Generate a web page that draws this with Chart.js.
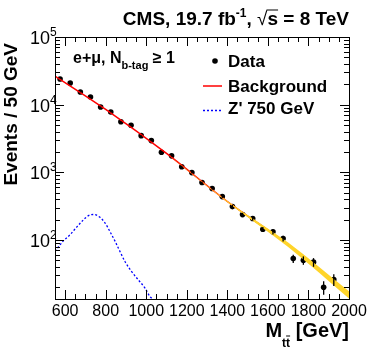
<!DOCTYPE html>
<html>
<head>
<meta charset="utf-8">
<script src="https://cdn.jsdelivr.net/npm/chart.js@4/dist/chart.umd.min.js"></script>
<style>
  html, body { margin: 0; padding: 0; background: #fff; }
  #chart { display: block; }
</style>
</head>
<body>
<canvas id="chart" width="368" height="353"></canvas>
<script>
// data (events per 50 GeV bin)
const dataMass = [575,625,675,725,775,825,875,925,975,1025,1075,1125,1175,1225,1275,1325,1375,1425,1475,1525,1575,1625,1675,1725,1775,1825,1875,1925];
const dataCounts = [24000,20900,15400,13000,9250,7800,5600,4970,3480,2940,1980,1750,1210,990,705,575,437,311,237,207,144,132,105,53,50,47,20,26];
const dataErrors = [155,145,124,114,96,88,75,70,59,54,44,42,35,31,27,24,21,18,15,14,12,11.5,10,7.3,7.1,6.9,4.5,5.1];

// background fit
const bkgMass = [550,800,1100,1400,1700,2000];
const bkgValues = [26500,8500,1900,370,85,15.5];

// its uncertainty bands, only visible at high mass
const bandMass = [1100,1400,1700,2000];
const bandOuterUp = [1900,378,91.5,17.4];
const bandOuterDown = [1900,362,78.5,13.6];
const bandInnerUp = [1900,374,88,16.5];
const bandInnerDown = [1900,366,82,14.5];

// Z' 750 GeV signal template
const zpMass = [550,590,625,657,690,715,740,770,797,821,846,871,895,928,961,994,1018,1035,1060];
const zpValues = [68,96,120,155,198,229,238,218,178,133,96,67,48,34,25.7,19.4,14.6,13,10.5];

const xTickLabels = [600,800,1000,1200,1400,1600,1800,2000];
const yTickExponents = [2,3,4,5];

const FONT = '"Liberation Sans", Arial, Helvetica, sans-serif';

function pts(xs, ys) {
  return xs.map((x, i) => ({ x: x, y: ys[i] }));
}

function drawParts(ctx, parts, x, y, align) {
  let total = 0;
  parts.forEach(p => { ctx.font = p.font; p.w = ctx.measureText(p.t).width; total += p.w; });
  let cx = align === "right" ? x - total : x;
  parts.forEach(p => {
    ctx.font = p.font;
    ctx.textAlign = "left";
    ctx.fillText(p.t, cx, y + (p.dy || 0));
    if (p.bar) {
      ctx.beginPath();
      ctx.lineWidth = p.barWidth || 1;
      ctx.moveTo(cx + (p.barFrom || 0), y + p.bar);
      ctx.lineTo(cx + p.w + (p.barTo || 0), y + p.bar);
      ctx.stroke();
    }
    cx += p.w;
  });
}

const rootStyle = {
  id: "rootStyle",
  afterDatasetsDraw(chart) {
    // vertical error bars on the data points
    const ctx = chart.ctx;
    const xs = chart.scales.x, ys = chart.scales.y;
    const area = chart.chartArea;
    ctx.save();
    ctx.beginPath();
    ctx.rect(area.left, area.top, area.right - area.left, area.bottom - area.top);
    ctx.clip();
    ctx.strokeStyle = "#000";
    ctx.lineWidth = 1.3;
    dataMass.forEach((m, i) => {
      const px = xs.getPixelForValue(m);
      ctx.beginPath();
      ctx.moveTo(px, ys.getPixelForValue(dataCounts[i] + dataErrors[i]));
      ctx.lineTo(px, ys.getPixelForValue(dataCounts[i] - dataErrors[i]));
      ctx.stroke();
    });
    ctx.restore();
  },
  afterDraw(chart) {
    const ctx = chart.ctx;
    const xs = chart.scales.x, ys = chart.scales.y;
    const { left, right, top, bottom } = chart.chartArea;
    ctx.save();
    ctx.strokeStyle = "#000";
    ctx.fillStyle = "#000";
    ctx.lineWidth = 1;

    // frame
    ctx.strokeRect(Math.round(left) + 0.5, Math.round(top) + 0.5, Math.round(right - left), Math.round(bottom - top));

    // x ticks, bottom and top, pointing inwards
    for (let m = 600; m < 2000; m += 50) {
      const px = Math.round(xs.getPixelForValue(m)) + 0.5;
      const len = m % 200 === 0 ? 9 : 5;
      ctx.beginPath();
      ctx.moveTo(px, bottom); ctx.lineTo(px, bottom - len);
      ctx.moveTo(px, top); ctx.lineTo(px, top + len);
      ctx.stroke();
    }
    // y ticks, left and right
    for (let d = 1; d <= 4; d++) {
      for (let k = 1; k <= 9; k++) {
        const v = k * Math.pow(10, d);
        if (v <= ys.min || v >= ys.max) continue;
        const py = Math.round(ys.getPixelForValue(v)) + 0.5;
        const len = k === 1 ? 9 : 5;
        ctx.beginPath();
        ctx.moveTo(left, py); ctx.lineTo(left + len, py);
        ctx.moveTo(right, py); ctx.lineTo(right - len, py);
        ctx.stroke();
      }
    }

    // x tick labels
    ctx.font = "16px " + FONT;
    ctx.textAlign = "center";
    ctx.textBaseline = "alphabetic";
    xTickLabels.forEach(v => {
      ctx.fillText(String(v), xs.getPixelForValue(v), 316);
    });

    // y tick labels 10^n
    yTickExponents.forEach(e => {
      const py = ys.getPixelForValue(Math.pow(10, e));
      ctx.font = "18px " + FONT;
      ctx.textAlign = "right";
      ctx.fillText("10", 50, py + 7);
      ctx.font = "12px " + FONT;
      ctx.textAlign = "left";
      ctx.fillText(String(e), 50, py - 1);
    });

    // axis titles
    drawParts(ctx, [
      { t: "M", font: "bold 20px " + FONT },
      { t: "t", font: "bold 12px " + FONT, dy: 10 },
      { t: "t", font: "bold 12px " + FONT, dy: 10, bar: -1, barFrom: 0, barTo: 0 },
      { t: " [GeV]", font: "bold 20px " + FONT }
    ], 349, 337, "right");

    ctx.save();
    ctx.translate(17, 43);
    ctx.rotate(-Math.PI / 2);
    ctx.font = "bold 19px " + FONT;
    ctx.textAlign = "right";
    ctx.fillText("Events / 50 GeV", 0, 0);
    ctx.restore();

    // header
    drawParts(ctx, [
      { t: "CMS, 19.7 fb", font: "bold 19px " + FONT },
      { t: "-1", font: "bold 12px " + FONT, dy: -8 },
      { t: ", ", font: "bold 19px " + FONT },
      { t: "\u221A", font: "19px " + FONT },
      { t: "s", font: "bold 19px " + FONT, bar: -15, barFrom: -1 },
      { t: " = 8 TeV", font: "bold 19px " + FONT }
    ], 349, 25, "right");

    // channel label
    drawParts(ctx, [
      { t: "e+\u03BC, N", font: "bold 16px " + FONT },
      { t: "b-tag", font: "bold 11px " + FONT, dy: 6 },
      { t: " \u2265 1", font: "bold 16px " + FONT }
    ], 73, 63, "left");

    // legend
    ctx.font = "bold 17px " + FONT;
    ctx.textAlign = "left";
    ctx.beginPath();
    ctx.arc(215, 61, 2.8, 0, Math.PI * 2);
    ctx.fill();
    ctx.fillText("Data", 228, 66.5);

    ctx.strokeStyle = "#ff0000";
    ctx.lineWidth = 1.5;
    ctx.beginPath();
    ctx.moveTo(203, 86); ctx.lineTo(222, 86);
    ctx.stroke();
    ctx.fillText("Background", 228, 91.5);

    ctx.strokeStyle = "#0000ff";
    ctx.lineWidth = 1.3;
    ctx.setLineDash([2, 2]);
    ctx.beginPath();
    ctx.moveTo(203, 110.5); ctx.lineTo(222, 110.5);
    ctx.stroke();
    ctx.setLineDash([]);
    ctx.fillText("Z' 750 GeV", 228, 114);

    ctx.restore();
  }
};

new Chart(document.getElementById("chart"), {
  type: "scatter",
  data: {
    datasets: [
      {
        data: pts(bandMass, bandOuterUp), showLine: true, fill: "+1",
        backgroundColor: "#ffd42a", borderWidth: 0, pointRadius: 0, cubicInterpolationMode: "monotone"
      },
      {
        data: pts(bandMass, bandOuterDown), showLine: true,
        borderWidth: 0, pointRadius: 0, cubicInterpolationMode: "monotone"
      },
      {
        data: pts(bandMass, bandInnerUp), showLine: true, fill: "+1",
        backgroundColor: "#ff9f00", borderWidth: 0, pointRadius: 0, cubicInterpolationMode: "monotone"
      },
      {
        data: pts(bandMass, bandInnerDown), showLine: true,
        borderWidth: 0, pointRadius: 0, cubicInterpolationMode: "monotone"
      },
      {
        label: "Background", data: pts(bkgMass, bkgValues), showLine: true,
        borderColor: "#ff0000", borderWidth: 1.5, pointRadius: 0, cubicInterpolationMode: "monotone"
      },
      {
        label: "Z' 750 GeV", data: pts(zpMass, zpValues), showLine: true,
        borderColor: "#0000ff", borderWidth: 1.3, borderDash: [2, 2], pointRadius: 0, cubicInterpolationMode: "monotone"
      },
      {
        label: "Data", data: pts(dataMass, dataCounts), showLine: false,
        backgroundColor: "#000", borderWidth: 0, pointRadius: 2.8
      }
    ]
  },
  options: {
    responsive: false,
    animation: false,
    devicePixelRatio: 1,
    layout: { padding: { left: 55, right: 19, top: 37, bottom: 54 } },
    plugins: { legend: { display: false }, tooltip: { enabled: false } },
    scales: {
      x: { type: "linear", min: 550, max: 2000, display: false },
      y: { type: "logarithmic", min: 13.4, max: 100000, display: false }
    }
  },
  plugins: [rootStyle]
});
</script>
</body>
</html>
